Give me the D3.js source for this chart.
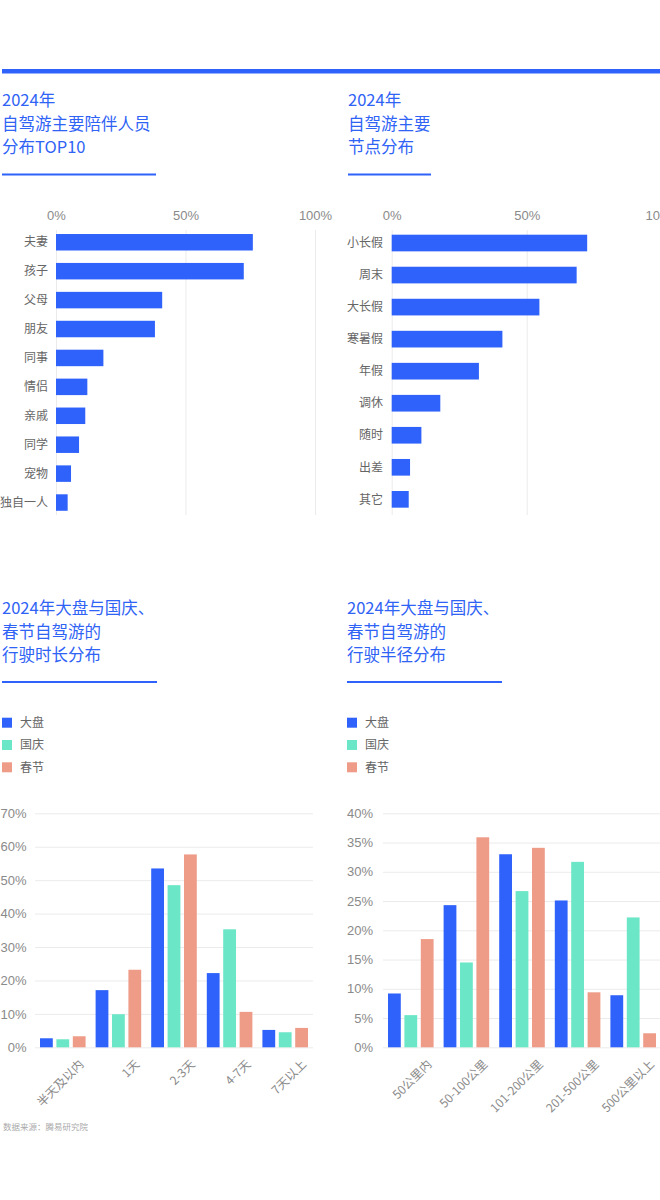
<!DOCTYPE html>
<html>
<head>
<meta charset="utf-8">
<script src="https://cdn.jsdelivr.net/npm/d3@7"></script>
<style>
  body { margin: 0; background: #fff; }
  svg { display: block; font-family: "Noto Sans CJK SC", "Noto Sans", sans-serif; }
</style>
</head>
<body>
<div id="chart"></div>
<script>
// ---- data ----
const companionCats = ["夫妻", "孩子", "父母", "朋友", "同事", "情侣", "亲戚", "同学", "宠物", "独自一人"];
const companionVals = [76, 72.5, 41, 38.2, 18.3, 12.1, 11.3, 8.9, 5.8, 4.5];

const nodeCats = ["小长假", "周末", "大长假", "寒暑假", "年假", "调休", "随时", "出差", "其它"];
const nodeVals = [72.4, 68.5, 54.7, 41, 32.3, 18, 11, 6.8, 6.3];

const seriesNames = ["大盘", "国庆", "春节"];

const durationCats = ["半天及以内", "1天", "2-3天", "4-7天", "7天以上"];
const durationTotal = [2.7, 17.1, 53.5, 22.2, 5.2];
const durationNational = [2.4, 9.9, 48.5, 35.3, 4.5];
const durationSpring = [3.3, 23.2, 57.7, 10.6, 5.8];

const radiusCats = ["50公里内", "50-100公里", "101-200公里", "201-500公里", "500公里以上"];
const radiusTotal = [9.2, 24.3, 33.0, 25.1, 8.9];
const radiusNational = [5.5, 14.5, 26.7, 31.7, 22.2];
const radiusSpring = [18.5, 35.9, 34.1, 9.4, 2.4];

const pctTicks = [0, 50, 100];

// ---- styles ----
const blue = "#2f62fa", green = "#6be6c6", salmon = "#ee9c87";
const titleColor = "#2f63f5", gridColor = "#ebebeb", tickColor = "#8a8a8a", labelColor = "#666";
const colors = [blue, green, salmon];

const svg = d3.select("#chart").append("svg")
    .attr("width", 660)
    .attr("height", 1200);

// top rule
svg.append("rect").attr("x", 2).attr("y", 69).attr("width", 658).attr("height", 4.5).attr("fill", blue);

// titles + underlines
function title(x, y, lines, ulWidth, ulY) {
  const t = svg.append("text").attr("x", x).attr("y", y)
      .attr("fill", titleColor).attr("font-size", 16.5);
  lines.forEach((l, i) => t.append("tspan").attr("x", x).attr("dy", i ? 23.5 : 0).text(l));
  svg.append("rect").attr("x", x).attr("y", ulY).attr("width", ulWidth).attr("height", 2).attr("fill", blue);
}
title(2, 106, ["2024年", "自驾游主要陪伴人员", "分布TOP10"], 154, 173.5);
title(348, 106, ["2024年", "自驾游主要", "节点分布"], 83, 173.5);
title(2, 614, ["2024年大盘与国庆、", "春节自驾游的", "行驶时长分布"], 155, 681);
title(347, 614, ["2024年大盘与国庆、", "春节自驾游的", "行驶半径分布"], 155, 681);

// horizontal bar chart
function hbar(cats, vals, o) {
  const g = svg.append("g");
  const x = d3.scaleLinear().domain([0, 100]).range([o.x0, o.x1]);
  const y = d3.scaleBand().domain(cats).range([o.y0, o.y0 + cats.length * o.step])
      .paddingInner(o.pad).paddingOuter(o.pad / 2);

  const ax = g.append("g").attr("transform", "translate(0,230)")
      .call(d3.axisTop(x).tickValues(pctTicks).tickFormat(d => d + "%")
        .tickSizeInner(-285).tickSizeOuter(0).tickPadding(10));
  ax.select(".domain").remove();
  ax.selectAll("line").attr("stroke", gridColor);
  ax.selectAll("text").attr("fill", tickColor).attr("font-size", 13).attr("font-family", null);

  g.selectAll(".bar").data(cats).join("rect")
      .attr("x", o.x0)
      .attr("y", d => y(d))
      .attr("width", (d, i) => x(vals[i]) - o.x0)
      .attr("height", y.bandwidth())
      .attr("fill", blue);

  g.selectAll(".cat").data(cats).join("text")
      .attr("x", o.labelX)
      .attr("y", d => y(d) + y.bandwidth() / 2)
      .attr("dy", "0.35em")
      .attr("text-anchor", "end")
      .attr("font-size", 12)
      .attr("fill", labelColor)
      .text(d => d);
}
hbar(companionCats, companionVals, { x0: 56, x1: 315, y0: 227.8, step: 28.92, pad: 0.43, labelX: 48 });
hbar(nodeCats, nodeVals, { x0: 391.7, x1: 661.7, y0: 227, step: 32.04, pad: 0.48, labelX: 383 });

// legend
function legend(x) {
  seriesNames.forEach((s, i) => {
    const cy = 722.7 + i * 22.3;
    svg.append("rect").attr("x", x).attr("y", cy - 5).attr("width", 10).attr("height", 10).attr("fill", colors[i]);
    svg.append("text").attr("x", x + 18).attr("y", cy).attr("dy", "0.35em")
        .attr("font-size", 12).attr("fill", labelColor).text(s);
  });
}
legend(2);
legend(347);

// grouped bar chart
function grouped(cats, series, o) {
  const g = svg.append("g");
  const y = d3.scaleLinear().domain([0, o.max]).range([1047.3, 813.3]);
  const x0 = d3.scaleBand().domain(cats).range([o.left, o.right]).paddingInner(0.18).paddingOuter(0.09);
  const x1 = d3.scaleBand().domain(seriesNames).range([0, x0.bandwidth()]).paddingInner(0.22);

  const ay = g.append("g").attr("transform", `translate(${o.left},0)`)
      .call(d3.axisLeft(y).tickValues(d3.range(0, o.max + 1, o.tick)).tickFormat(d => d + "%")
        .tickSizeInner(-(o.right - o.left)).tickSizeOuter(0).tickPadding(o.tickPad));
  ay.select(".domain").remove();
  ay.selectAll("line").attr("stroke", gridColor);
  ay.selectAll("text").attr("fill", tickColor).attr("font-size", 13).attr("font-family", null);

  const grp = g.selectAll(".grp").data(cats).join("g")
      .attr("transform", d => `translate(${x0(d)},0)`);
  grp.selectAll("rect").data((d, i) => series.map((s, k) => ({ k, v: s[i] }))).join("rect")
      .attr("x", d => x1(seriesNames[d.k]))
      .attr("y", d => y(d.v))
      .attr("width", x1.bandwidth())
      .attr("height", d => y(0) - y(d.v))
      .attr("fill", d => colors[d.k]);

  g.selectAll(".xl").data(cats).join("text")
      .attr("transform", d => `translate(${x0(d) + x0.bandwidth() - 4},1062) rotate(-45)`)
      .attr("dy", "0.35em")
      .attr("text-anchor", "end")
      .attr("font-size", 12)
      .attr("fill", tickColor)
      .text(d => d);
}
grouped(durationCats, [durationTotal, durationNational, durationSpring],
  { left: 35, right: 313, max: 70, tick: 10, tickPad: 8.5 });
grouped(radiusCats, [radiusTotal, radiusNational, radiusSpring],
  { left: 383, right: 661, max: 40, tick: 5, tickPad: 10 });

// source
svg.append("text").attr("x", 3).attr("y", 1127).attr("dy", "0.35em")
    .attr("font-size", 8.5).attr("fill", "#aaa").text("数据来源：腾易研究院");
</script>
</body>
</html>
